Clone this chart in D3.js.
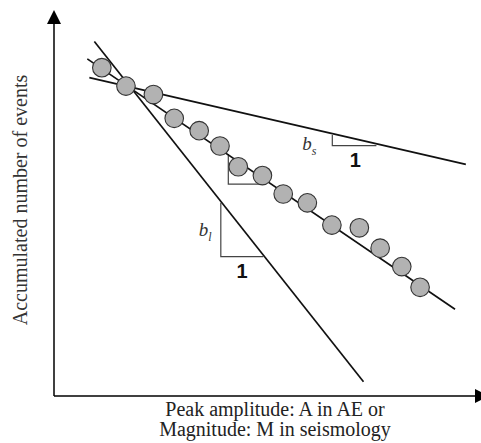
<!DOCTYPE html>
<html><head><meta charset="utf-8">
<script src="https://cdn.jsdelivr.net/npm/d3@7"></script>
<style>html,body{margin:0;padding:0;background:#fff;}svg{display:block;}</style>
</head><body>
<svg id="chart" width="481" height="443"></svg>
<script>
// Data (abstract units: x 0..10, y 0..10)
const pointX = [1.15, 1.73, 2.39, 2.89, 3.49, 3.99, 4.43, 5.01, 5.51, 6.09, 6.68, 7.34, 7.84, 8.36, 8.80];
const pointY = [8.55, 8.07, 7.85, 7.23, 6.91, 6.51, 5.97, 5.74, 5.26, 5.03, 4.45, 4.38, 3.85, 3.37, 2.83];
const lineNames = ["main", "steep", "shallow"];
const lineX = [[0.80, 9.64], [0.97, 7.44], [0.85, 9.90]];
const lineY = [[8.78, 2.26], [9.23, 0.37], [8.29, 6.03]];
// slope triangles: [x vertical leg, y top, y bottom, x end of horizontal leg]
const triNames = ["bs", "main", "bl"];
const triX0 = [6.69, 4.19, 4.01];
const triYTop = [6.80, 6.30, 5.03];
const triYBot = [6.52, 5.52, 3.63];
const triX1 = [7.75, 5.10, 5.03];
const xLabelLines = ["Peak amplitude: A in AE or", "Magnitude: M in seismology"];
const yLabel = "Accumulated number of events";

const svg = d3.select("#chart");
const x = d3.scaleLinear().domain([0, 10]).range([54, 470]);
const y = d3.scaleLinear().domain([0, 10]).range([396, 12]);

// axes with arrowheads
const defs = svg.append("defs");
defs.append("marker").attr("id", "arrow").attr("viewBox", "0 0 14 14")
  .attr("refX", 0).attr("refY", 7).attr("markerWidth", 14).attr("markerHeight", 14)
  .attr("markerUnits", "userSpaceOnUse").attr("orient", "auto")
  .append("path").attr("d", "M0,0 L14,7 L0,14 Z").attr("fill", "#000");

const [x0, x1] = x.range();
const [y0, y1] = y.range();
svg.append("line").attr("x1", x0).attr("y1", y0).attr("x2", x0).attr("y2", y1 + 12)
  .attr("stroke", "#000").attr("stroke-width", 1.5).attr("marker-end", "url(#arrow)");
svg.append("line").attr("x1", x0).attr("y1", y0).attr("x2", x1 + 5).attr("y2", y0)
  .attr("stroke", "#000").attr("stroke-width", 1.5).attr("marker-end", "url(#arrow)");

// slope triangles
triNames.forEach((n, i) => {
  svg.append("path")
    .attr("d", `M${x(triX0[i])},${y(triYTop[i])} L${x(triX0[i])},${y(triYBot[i])} L${x(triX1[i])},${y(triYBot[i])}`)
    .attr("fill", "none").attr("stroke", "#444").attr("stroke-width", 1.2);
});

// fit lines
lineNames.forEach((n, i) => {
  svg.append("line")
    .attr("x1", x(lineX[i][0])).attr("y1", y(lineY[i][0]))
    .attr("x2", x(lineX[i][1])).attr("y2", y(lineY[i][1]))
    .attr("stroke", "#111").attr("stroke-width", 1.7);
});

// points
svg.append("g").selectAll("circle").data(pointX.map((d, i) => [d, pointY[i]]))
  .join("circle")
  .attr("cx", d => x(d[0])).attr("cy", d => y(d[1])).attr("r", 9.3)
  .attr("fill", "#b2b2b2").attr("stroke", "#333").attr("stroke-width", 1.1);

// slope labels
const serif = "'Liberation Serif', 'DejaVu Serif', serif";
const sans = "'Liberation Sans', Arial, sans-serif";
function bLabel(px, py, sub) {
  const t = svg.append("text").attr("x", px).attr("y", py)
    .attr("font-family", serif).attr("font-style", "italic").attr("font-size", 19).attr("fill", "#333");
  t.append("tspan").text("b");
  t.append("tspan").attr("dy", 5).attr("font-size", 12).text(sub);
}
bLabel(x(triX0[0]) - 30, y(triYBot[0]) + 4, "s");
bLabel(x(triX0[2]) - 22, y((triYTop[2] + triYBot[2]) / 2) + 6, "l");

svg.append("text").attr("x", (x(triX0[0]) + x(triX1[0])) / 2 + 1).attr("y", y(triYBot[0]) + 21)
  .attr("text-anchor", "middle").attr("font-family", sans).attr("font-weight", "bold")
  .attr("font-size", 20).attr("fill", "#111").text("1");
svg.append("text").attr("x", (x(triX0[2]) + x(triX1[2])) / 2).attr("y", y(triYBot[2]) + 21)
  .attr("text-anchor", "middle").attr("font-family", sans).attr("font-weight", "bold")
  .attr("font-size", 20).attr("fill", "#111").text("1");

// axis labels
svg.append("g").selectAll("text").data(xLabelLines).join("text")
  .attr("x", 275).attr("y", (d, i) => 416 + i * 20)
  .attr("text-anchor", "middle").attr("font-family", serif).attr("font-size", 20)
  .attr("fill", "#222").text(d => d);

svg.append("text").attr("transform", "translate(27,200) rotate(-90)")
  .attr("text-anchor", "middle").attr("font-family", serif).attr("font-size", 20)
  .attr("fill", "#333").text(yLabel);
</script>
</body></html>
